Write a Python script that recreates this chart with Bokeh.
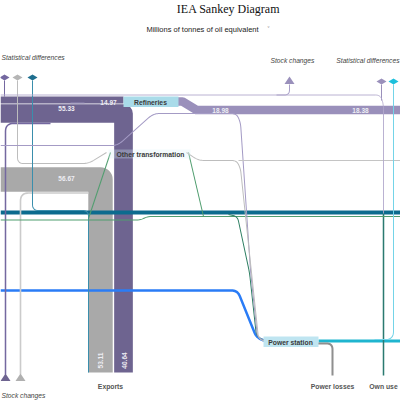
import math
from bokeh.plotting import figure
from bokeh.models import Range1d
from bokeh.embed import file_html
from bokeh.resources import INLINE
from bokeh.core.properties import value

# ---------------- data (Mtoe) ----------------
flow_names = [
    "Crude oil to refineries", "Crude oil exports", "Oil products exports",
    "Refinery output", "Crude stock changes", "Products stock changes",
    "Crude statistical differences", "NGL supply", "Feedstocks",
    "Natural gas", "Gas to other transformation", "Other transformation in",
    "Other transformation out", "Gas to power", "Refinery gas to power",
    "Products to power", "Products onward", "Products supply line",
    "Products stock draw", "Products statistical differences", "Coal to power",
    "Electricity output", "Electricity statistical differences",
    "Power losses", "Own use",
]
flow_values = [
    14.97, 40.64, 53.11,
    18.98, 3.3, 3.56,
    2.2, 2.2, 2.2,
    8.7, 2.2, 2.2,
    2.2, 2.2, 2.2,
    2.2, 2.2, 1.8,
    2.2, 2.2, 5.4,
    6.5, 2.2,
    4.4, 3.3,
]
flow_colors = [
    "#6e6490", "#6e6490", "#a9a9a9",
    "#9a90bb", "#7468a0", "#cbcbcb",
    "#7468a0", "#bdbdbd", "#3a8eac",
    "#0c6b8e", "#4f9d6e", "#4f9d6e",
    "#4f9d6e", "#2e7f63", "#a49bc5",
    "#bdbdbd", "#c4c4c4", "#b2a9cd",
    "#a89fc8", "#9a90bb", "#2a7cf6",
    "#1fb5cf", "#74d4e8",
    "#8f8f8f", "#2a7a70",
]

band_label_text = ["55.33", "14.97", "56.67", "18.98", "18.38", "53.11", "40.64"]

node_names = ["Refineries", "Other transformation", "Power station"]
sink_names = ["Exports", "Power losses", "Own use"]

# ---------------- layout (reference pixel space) ----------------
routes = [
    ([(0, 99.5), (123, 99.5)], 0),
    ([(0, 113), (123, 113), (123, 372)], 0),
    ([(0, 179), (100, 179), (100, 372)], 0),
    ([(170, 101), (182, 101), (196, 109.5), (400, 109.5)], 0),
    ([(50, 123), (5, 123), (5, 374)], 8),
    ([(88, 192.5), (20, 192.5), (20, 374)], 8),
    ([(4, 80), (4, 96)], 0),
    ([(17, 80), (17, 163), (88, 163), (106, 152)], 6),
    ([(32, 80), (32, 210), (88, 210), (88, 372)], 6),
    ([(0, 212), (400, 212)], 0),
    ([(0, 219.5), (140, 219.5), (147, 216), (400, 216)], 4),
    ([(88, 218), (110, 152)], 0),
    ([(188, 152), (203, 216)], 0),
    ([(228, 214), (237, 216), (249, 272), (256, 336), (266, 341)], 6),
    ([(0, 145), (117, 145), (153, 113), (236, 113), (240, 122), (250, 270), (257, 337), (266, 341)], 6),
    ([(186, 152), (198, 160), (236, 160), (240, 168), (251, 272), (258, 338), (266, 342)], 6),
    ([(238, 160), (400, 160)], 0),
    ([(0, 94.5), (380, 94.5), (383, 104), (383, 213)], 5),
    ([(276, 94.5), (289, 94.5), (289, 84)], 6),
    ([(381, 84), (381, 100)], 0),
    ([(0, 290), (237, 290), (256, 337), (266, 341)], 6),
    ([(318, 340.5), (400, 340.5)], 0),
    ([(393, 84), (393, 339), (374, 339)], 8),
    ([(312, 343), (332, 343), (332, 375)], 6),
    ([(383, 213), (383, 375)], 0),
]

node_box = [(123, 178, 96, 106.5), (108, 190, 149, 158), (263, 318, 336, 346.5)]
node_fill = ["#a9dbe9", "#d8eef5", "#bfe5f1"]
node_alpha = [1.0, 0.3, 1.0]
node_label_pos = [(150, 101.5), (150, 154), (290, 341.5)]
sink_label_pos = [(110, 386), (332, 386), (383, 386)]
band_label_pos = [(66, 108), (108, 102), (66, 178), (220, 110), (360, 110), (100, 360), (124, 360)]
band_label_angle = [0, 0, 0, 0, 0, math.pi / 2, math.pi / 2]

PX_PER_UNIT = 0.46
W, H = 400, 400
S = W / 400.0


def rounded(pts, r):
    if r <= 0 or len(pts) < 3:
        return [p[0] for p in pts], [p[1] for p in pts]
    out = [pts[0]]
    for i in range(1, len(pts) - 1):
        ax, ay = pts[i - 1]
        bx, by = pts[i]
        cx, cy = pts[i + 1]
        d1 = math.hypot(bx - ax, by - ay)
        d2 = math.hypot(cx - bx, cy - by)
        rr = min(r, d1 / 2, d2 / 2)
        p0 = (bx - (bx - ax) / d1 * rr, by - (by - ay) / d1 * rr)
        p2 = (bx + (cx - bx) / d2 * rr, by + (cy - by) / d2 * rr)
        for k in range(11):
            t = k / 10
            x = (1 - t) ** 2 * p0[0] + 2 * (1 - t) * t * bx + t * t * p2[0]
            y = (1 - t) ** 2 * p0[1] + 2 * (1 - t) * t * by + t * t * p2[1]
            out.append((x, y))
    out.append(pts[-1])
    return [p[0] for p in out], [p[1] for p in out]


p = figure(width=W, height=H, x_range=Range1d(0, 400), y_range=Range1d(400, 0),
           output_backend="svg", toolbar_location=None, min_border=0)
p.axis.visible = False
p.grid.visible = False
p.outline_line_color = None
p.background_fill_color = "white"

FONT = value("Liberation Sans")

# thick bands first, then thin flows
order = sorted(range(len(flow_values)), key=lambda i: -flow_values[i])
for i in order:
    pts, r = routes[i]
    xs, ys = rounded(pts, r)
    lw = max(0.9, flow_values[i] * PX_PER_UNIT * S)
    p.line(xs, ys, line_color=flow_colors[i], line_width=lw,
           line_join="round" if flow_values[i] > 10 else "miter", line_cap="butt")

# split marker line on crude band
p.line([70, 84], [102.5, 102.5], line_color="#9d94bd", line_width=0.8)

# nodes
for (x0, x1, y0, y1), c, a in zip(node_box, node_fill, node_alpha):
    p.quad(left=x0, right=x1, top=y0, bottom=y1, fill_color=c, fill_alpha=a, line_color=None)

# markers: diamonds and triangles
dia_x = [4, 17, 32, 381, 393]
dia_y = [77, 77, 77, 81, 81]
dia_c = ["#7468a0", "#b5b5b5", "#1f6f8f", "#9a90bb", "#1cc0dc"]
p.patches([[x - 5, x, x + 5, x] for x in dia_x],
          [[y, y - 3, y, y + 3] for y in dia_y], fill_color=dia_c, line_color=None)
tri_x = [289, 5, 20]
tri_y = [80, 377, 377]
tri_c = ["#9a90bb", "#6e6490", "#b0b0b0"]
p.patches([[x - 5, x, x + 5] for x in tri_x],
          [[y + 3.5, y - 4, y + 3.5] for y in tri_y], fill_color=tri_c, line_color=None)

# texts
p.text([228], [8], text=["IEA Sankey Diagram"], text_font=value("Liberation Serif"),
       text_font_size="12px", text_align="center", text_baseline="middle", text_color="#111111")
p.text([202], [29], text=["Millions of tonnes of oil equivalent"], text_font=FONT,
       text_font_size="7.5px", text_align="center", text_baseline="middle", text_color="#222222")
p.text([268], [28], text=["˅"], text_font=value("DejaVu Sans"),
       text_font_size="6px", text_align="center", text_baseline="middle", text_color="#888888")

it_x = [1, 270, 399, 1]
it_y = [57, 60, 60, 395]
it_t = ["Statistical differences", "Stock  changes", "Statistical differences", "Stock changes"]
it_a = ["left", "left", "right", "left"]
for x, y, t, a in zip(it_x, it_y, it_t, it_a):
    p.text([x], [y], text=[t], text_font=FONT, text_font_style="italic",
           text_font_size="6.7px", text_align=a, text_baseline="middle", text_color="#444444")

for (x, y), t in zip(node_label_pos, node_names):
    p.text([x], [y], text=[t], text_font=FONT, text_font_style="bold",
           text_font_size="6.8px", text_align="center", text_baseline="middle", text_color="#3a3a3a")
for (x, y), t in zip(sink_label_pos, sink_names):
    p.text([x], [y], text=[t], text_font=FONT, text_font_style="bold",
           text_font_size="6.8px", text_align="center", text_baseline="middle", text_color="#555555")
for (x, y), t, a in zip(band_label_pos, band_label_text, band_label_angle):
    p.text([x], [y], text=[t], angle=a, text_font=FONT, text_font_style="bold",
           text_font_size="6.5px", text_align="center", text_baseline="middle", text_color="#eeeef4")

open("out.html", "w").write(file_html(p, INLINE))
